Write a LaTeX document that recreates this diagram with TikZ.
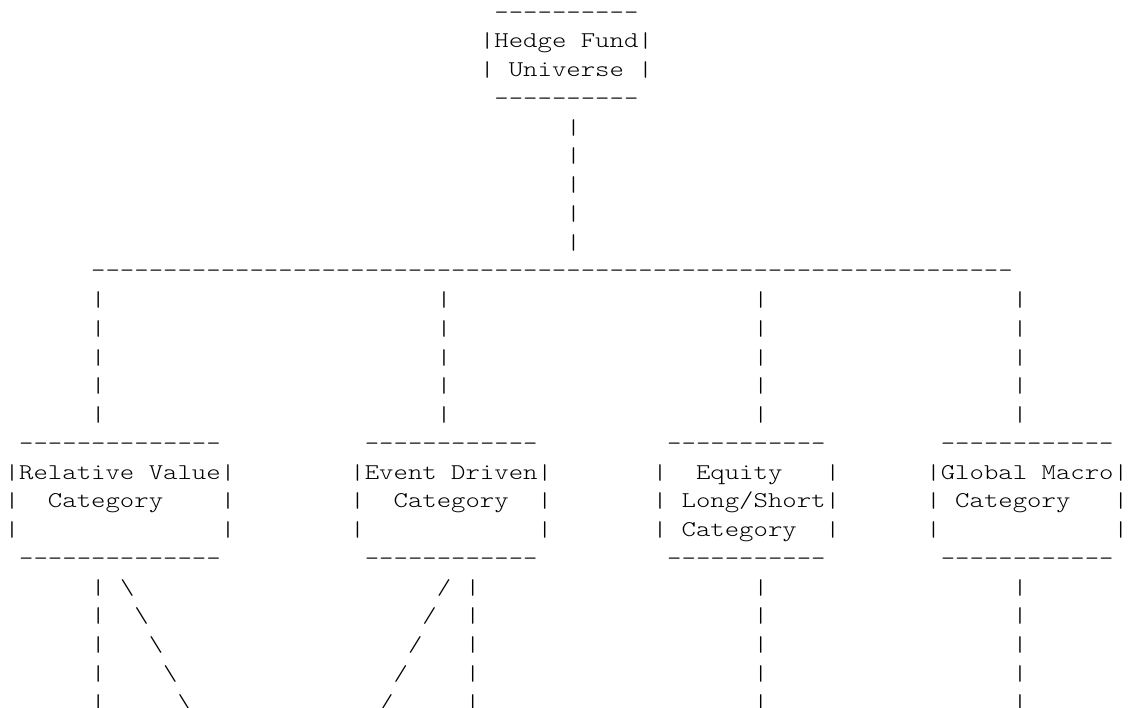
\documentclass[tikz,border=0pt]{standalone}
\usepackage{fontspec}
\usepackage{graphicx}
\usepackage{tikz}
\newfontfamily\asciifont{lmmonolt10-regular.otf}[FakeStretch=1.219,WordSpace={1,0,0}]
% bars and slashes as tall as in a typewriter font
\newcommand{\cellglyph}[1]{\raisebox{-1.65pt}{\resizebox{\width}{16.7pt}{\raisebox{\depth}{#1}}}}
\newcommand{\asciibar}{\cellglyph{|}}

\begin{document}
\begin{tikzpicture}[
            x = 14.4pt, % one character cell
            y = -28.75pt, % one text line
            every node/.style = {inner sep = 0pt, outer sep = 0pt, anchor = base west},
            txt/.style = {font = \asciifont\fontsize{22.5}{28.75}\selectfont}
        ]

        \useasboundingbox (-4.8pt,19.2pt) rectangle (1124.2pt,-688.8pt);

        % universe box
        \node[txt] (hf-top) at (34,0) {----------};
        \node[txt] (hf-a) at (33,1) {\asciibar Hedge Fund\asciibar};
        \node[txt] (hf-b) at (33,2) {\asciibar~Universe~\asciibar};
        \node[txt] (hf-bot) at (34,3) {----------};

        % stem down to the bus
        \foreach \r in {4,...,8}
            \node[txt] (stem-\r) at (39,\r) {\asciibar};

        \node[txt] (bus) at (6,9) {----------------------------------------------------------------};

        % drops to the categories
        \foreach \c in {6,30,52,70}
            \foreach \r in {10,...,14}
                \node[txt] (drop-\c-\r) at (\c,\r) {\asciibar};

        % relative value
        \node[txt] (rv-top) at (1,15) {--------------};
        \node[txt] (rv-a) at (0,16) {\asciibar Relative~Value\asciibar};
        \node[txt] (rv-b) at (0,17) {\asciibar~~Category~~~~\asciibar};
        \node[txt] (rv-c) at (0,18) {\asciibar~~~~~~~~~~~~~~\asciibar};
        \node[txt] (rv-bot) at (1,19) {--------------};

        % event driven
        \node[txt] (ed-top) at (25,15) {------------};
        \node[txt] (ed-a) at (24,16) {\asciibar Event~Driven\asciibar};
        \node[txt] (ed-b) at (24,17) {\asciibar~~Category~~\asciibar};
        \node[txt] (ed-c) at (24,18) {\asciibar~~~~~~~~~~~~\asciibar};
        \node[txt] (ed-bot) at (25,19) {------------};

        % equity long/short
        \node[txt] (els-top) at (46,15) {-----------};
        \node[txt] (els-a) at (45,16) {\asciibar~~Equity~~~\asciibar};
        \node[txt] (els-b) at (45,17) {\asciibar~Long/Short\asciibar};
        \node[txt] (els-c) at (45,18) {\asciibar~Category~~\asciibar};
        \node[txt] (els-bot) at (46,19) {-----------};

        % global macro
        \node[txt] (gm-top) at (65,15) {------------};
        \node[txt] (gm-a) at (64,16) {\asciibar Global~Macro\asciibar};
        \node[txt] (gm-b) at (64,17) {\asciibar~Category~~~\asciibar};
        \node[txt] (gm-c) at (64,18) {\asciibar~~~~~~~~~~~~\asciibar};
        \node[txt] (gm-bot) at (65,19) {------------};

        % legs below the categories
        \foreach \r/\k in {20/0,21/1,22/2,23/3,24/4} {
            \node[txt] (rv-leg-\r) at (6,\r) {\asciibar};
            \node[txt] (rv-diag-\r) at ({8+\k},\r) {\cellglyph{\textbackslash}};
            \node[txt] (ed-diag-\r) at ({30-\k},\r) {\cellglyph{/}};
            \node[txt] (ed-leg-\r) at (32,\r) {\asciibar};
            \node[txt] (els-leg-\r) at (52,\r) {\asciibar};
            \node[txt] (gm-leg-\r) at (70,\r) {\asciibar};
        }

\end{tikzpicture}
\end{document}
